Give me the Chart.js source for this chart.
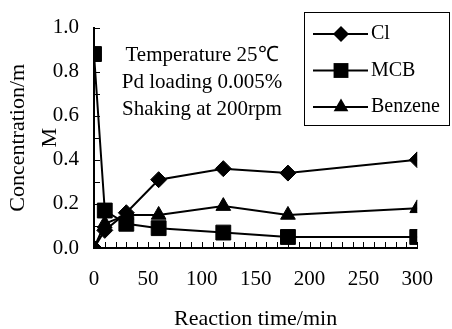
<!DOCTYPE html>
<html>
<head>
<meta charset="utf-8">
<script src="https://cdn.jsdelivr.net/npm/chart.js@4.4.0/dist/chart.umd.min.js"></script>
<style>
    html, body { margin: 0; padding: 0; background: #ffffff; }
    #wrap { position: relative; width: 452px; height: 329px; }
</style>
</head>
<body>
<div id="wrap"><canvas id="concChart"></canvas></div>
<script>
// reaction times (min) and concentrations (mM)
const times = [0, 10, 30, 60, 120, 180, 300];
const clValues = [0, 0.08, 0.16, 0.31, 0.36, 0.34, 0.40];
const mcbValues = [0.88, 0.17, 0.11, 0.09, 0.07, 0.05, 0.05];
const benzeneValues = [0, 0.11, 0.15, 0.15, 0.19, 0.15, 0.18];
const seriesNames = ['Cl', 'MCB', 'Benzene'];
const notes = ['Temperature 25\u2103', 'Pd loading 0.005%', 'Shaking at 200rpm'];
const yTitle = ['Concentration/m', 'M'];
const xTitle = 'Reaction time/min';

const FONT = "'Liberation Serif', 'Times New Roman', serif";

function toPoints(values) {
    return times.map((t, i) => ({ x: t, y: values[i] }));
}

function makeSeries(label, values, style, radius) {
    return {
        label: label,
        data: toPoints(values),
        borderColor: '#000000',
        backgroundColor: '#000000',
        borderWidth: 2,
        pointStyle: style,
        pointRadius: radius,
        pointBackgroundColor: '#000000',
        pointBorderColor: '#000000',
        pointBorderWidth: 1,
        tension: 0
    };
}

// marker shapes for the hand drawn legend (same geometry as Chart.js)
function drawMarker(ctx, style, cx, cy, r) {
    ctx.beginPath();
    if (style === 'rectRot') {
        ctx.moveTo(cx, cy - r);
        ctx.lineTo(cx + r, cy);
        ctx.lineTo(cx, cy + r);
        ctx.lineTo(cx - r, cy);
    } else if (style === 'rect') {
        const s = Math.SQRT1_2 * r;
        ctx.rect(cx - s, cy - s, 2 * s, 2 * s);
    } else {
        ctx.moveTo(cx, cy - r);
        ctx.lineTo(cx + r * Math.sin(Math.PI / 3), cy + r * 0.5);
        ctx.lineTo(cx - r * Math.sin(Math.PI / 3), cy + r * 0.5);
    }
    ctx.closePath();
    ctx.fill();
}

// tick marks pointing into the plot, as in the source figure
const inwardTicks = {
    id: 'inwardTicks',
    beforeDatasetsDraw(chart) {
        const ctx = chart.ctx;
        const xs = chart.scales.x;
        const ys = chart.scales.y;
        const area = chart.chartArea;
        const xStep = xs.options.ticks.stepSize;
        const yStep = ys.options.ticks.stepSize;
        ctx.save();
        ctx.strokeStyle = '#000000';
        ctx.lineWidth = 1;
        ctx.beginPath();
        for (let k = 0; xs.min + k * xStep <= xs.max + 1e-9; k++) {
            const px = Math.round(xs.getPixelForValue(xs.min + k * xStep)) + 0.5;
            ctx.moveTo(px, area.bottom);
            ctx.lineTo(px, area.bottom - 6);
        }
        for (let k = 0; ys.min + k * yStep <= ys.max + 1e-9; k++) {
            const py = Math.round(ys.getPixelForValue(ys.min + k * yStep)) + 0.5;
            ctx.moveTo(area.left, py);
            ctx.lineTo(area.left + 6, py);
        }
        ctx.stroke();
        ctx.restore();
    }
};

const notesAndLegend = {
    id: 'notesAndLegend',
    afterDraw(chart) {
        const ctx = chart.ctx;
        ctx.save();
        ctx.fillStyle = '#000000';
        ctx.font = '21px ' + FONT;
        ctx.textAlign = 'center';
        ctx.textBaseline = 'middle';
        notes.forEach((line, i) => {
            ctx.fillText(line, 202, 55 + i * 27);
        });

        // legend box
        ctx.font = '20px ' + FONT;
        ctx.strokeStyle = '#000000';
        ctx.lineWidth = 1;
        ctx.strokeRect(304.5, 12.5, 145, 113);
        ctx.textAlign = 'left';
        chart.data.datasets.forEach((ds, i) => {
            const ly = 34 + i * 36.5;
            ctx.lineWidth = 2;
            ctx.beginPath();
            ctx.moveTo(313, ly);
            ctx.lineTo(368, ly);
            ctx.stroke();
            drawMarker(ctx, ds.pointStyle, 341, ly, ds.pointRadius);
            ctx.fillText(ds.label, 371, ly);
        });
        ctx.restore();
    }
};

function initConcChart() {
    const ctx = document.getElementById('concChart');
    if (!ctx) return;

    new Chart(ctx, {
        type: 'line',
        data: {
            datasets: [
                makeSeries(seriesNames[0], clValues, 'rectRot', 8),
                makeSeries(seriesNames[1], mcbValues, 'rect', 10.5),
                makeSeries(seriesNames[2], benzeneValues, 'triangle', 8.5)
            ]
        },
        options: {
            responsive: true,
            maintainAspectRatio: false,
            animation: false,
            layout: {
                padding: { top: 24, right: 31, left: 0, bottom: 0 }
            },
            plugins: {
                legend: { display: false },
                tooltip: { enabled: false }
            },
            scales: {
                x: {
                    type: 'linear',
                    min: 0,
                    max: 300,
                    afterFit: s => { s.height = 81; },
                    grid: { display: false, drawTicks: false },
                    border: { display: true, color: '#000000', width: 2 },
                    ticks: {
                        stepSize: 10,
                        autoSkip: false,
                        maxRotation: 0,
                        padding: 19,
                        color: '#000000',
                        font: { family: FONT, size: 21 },
                        callback: v => (v % 50 === 0 ? String(v) : '')
                    },
                    title: {
                        display: true,
                        text: xTitle,
                        color: '#000000',
                        font: { family: FONT, size: 22, lineHeight: 1 },
                        padding: { top: 0, bottom: -1 }
                    }
                },
                y: {
                    min: 0,
                    max: 1,
                    afterFit: s => { s.width = 94; },
                    grid: { display: false, drawTicks: false },
                    border: { display: true, color: '#000000', width: 2 },
                    ticks: {
                        stepSize: 0.1,
                        autoSkip: false,
                        padding: 15,
                        color: '#000000',
                        font: { family: FONT, size: 21 },
                        callback: v => (Math.round(v * 10) % 2 === 0 ? v.toFixed(1) : '')
                    },
                    title: {
                        display: true,
                        text: yTitle,
                        color: '#000000',
                        font: { family: FONT, size: 22, lineHeight: 1.45 },
                        padding: { top: 2, bottom: 0 }
                    }
                }
            }
        },
        plugins: [inwardTicks, notesAndLegend]
    });
}

document.addEventListener('DOMContentLoaded', initConcChart);
</script>
</body>
</html>
